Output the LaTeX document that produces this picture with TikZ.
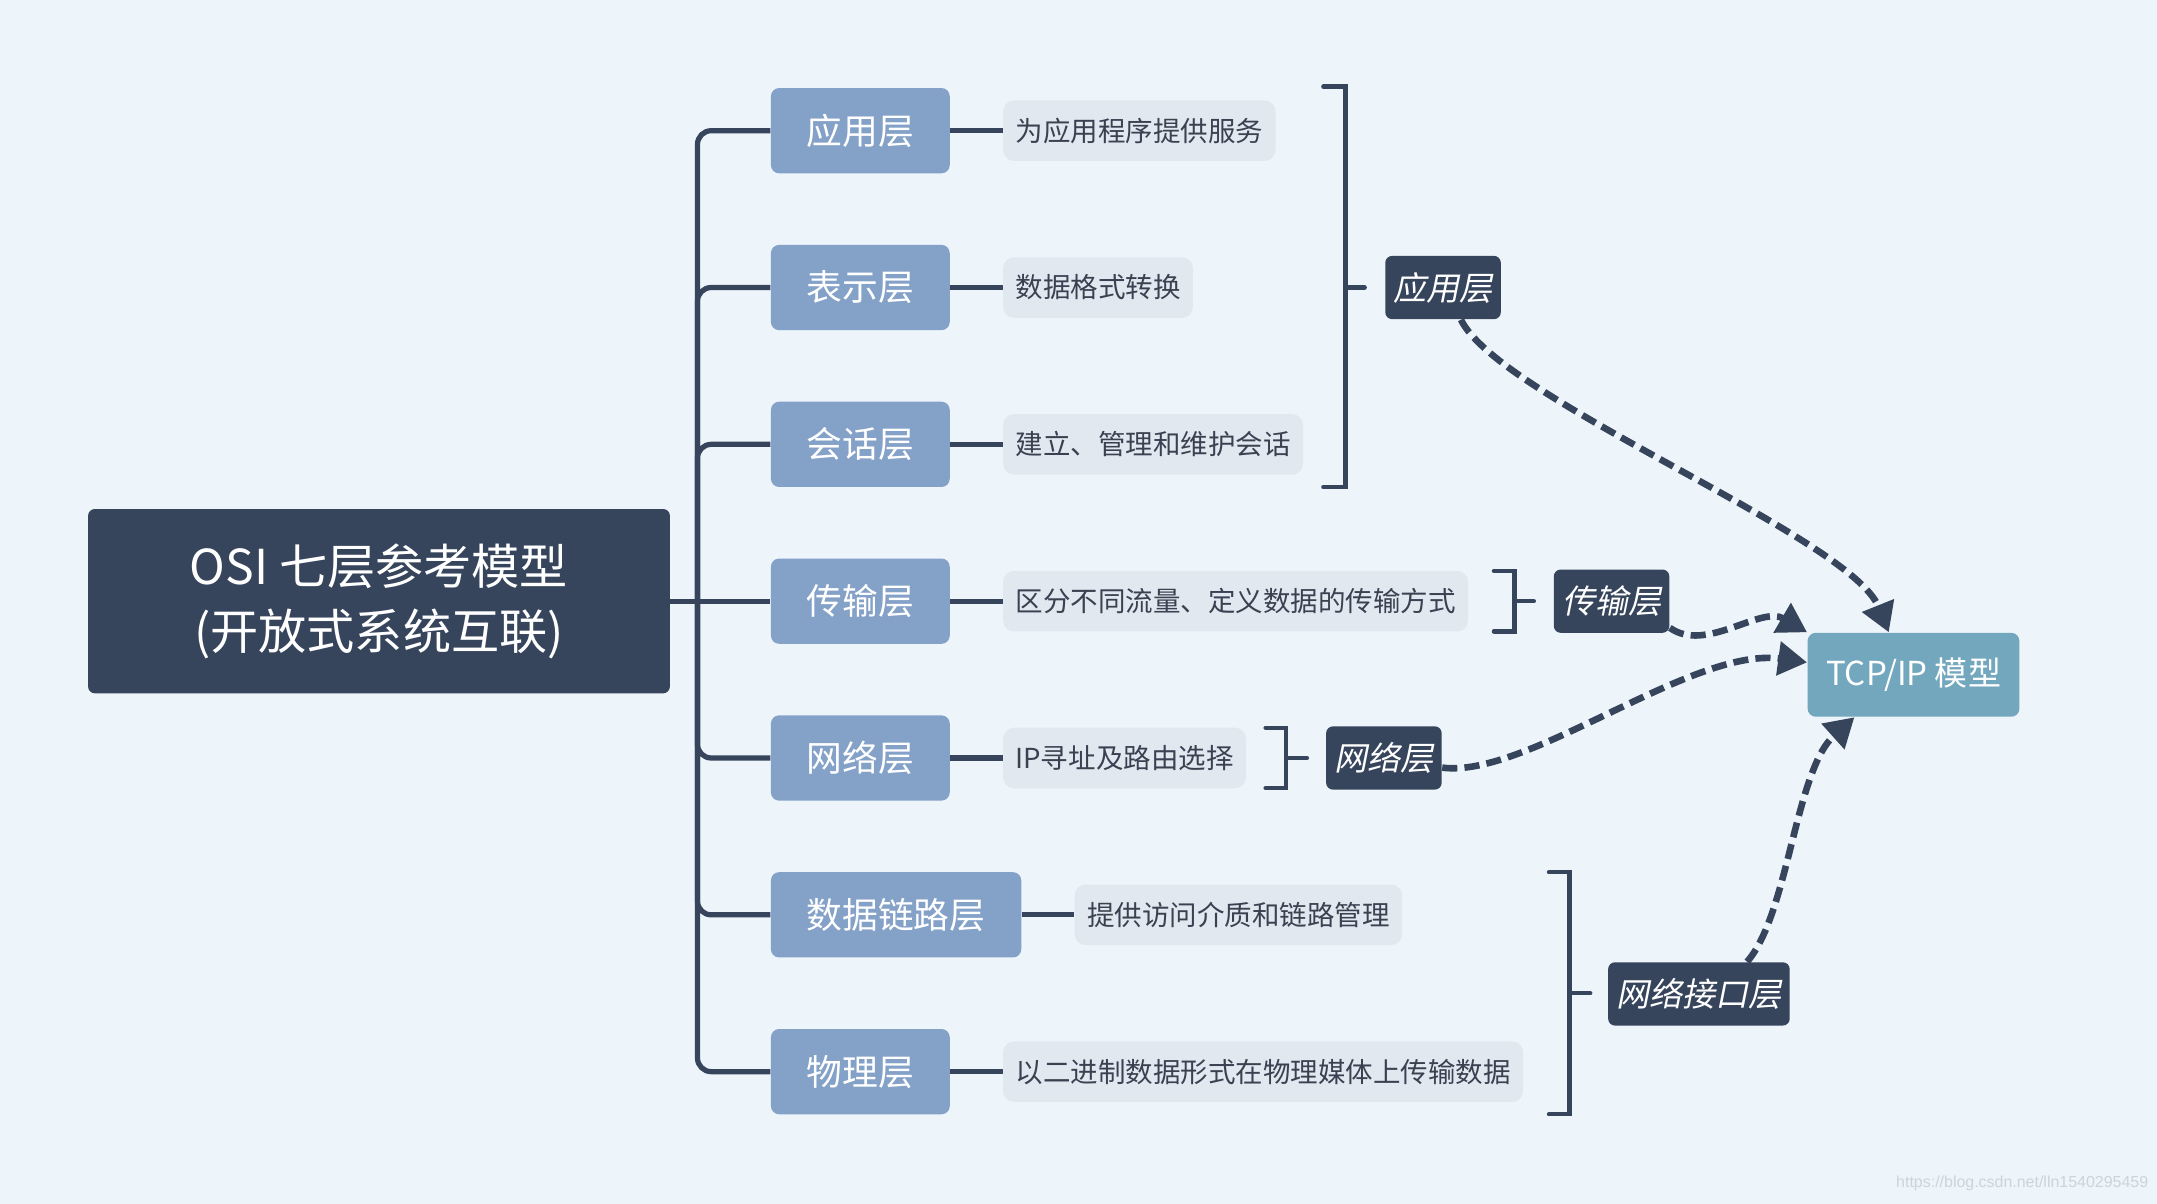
\documentclass[tikz,border=0pt]{standalone}
\usepackage{fontspec}
\setmainfont{Noto Sans CJK SC}
\newfontfamily\slfont[FakeSlant=0.2]{Noto Sans CJK SC}
\newfontfamily\wmfont{Liberation Sans}
\usetikzlibrary{arrows.meta,positioning}
\definecolor{bg}{HTML}{EDF4FA}
\definecolor{dark}{HTML}{36455C}
\definecolor{layerc}{HTML}{84A1C8}
\definecolor{descc}{HTML}{E1E8F0}
\definecolor{desctext}{HTML}{3A4150}
\definecolor{tcpc}{HTML}{72A7BE}
\definecolor{wm}{HTML}{CCD3DB}
\begin{document}
\begin{tikzpicture}[x=0.5pt,y=-0.5pt,
  rootbox/.style={fill=dark, rounded corners=2.5pt, minimum width=211.5pt, minimum height=67pt,
    text=white, align=center, font=\fontsize{17.5pt}{23.5pt}\selectfont},
  layerbox/.style={fill=layerc, rounded corners=3pt, minimum width=65pt, minimum height=31pt,
    inner xsep=13pt, inner ysep=0pt, text=white, font=\fontsize{13pt}{15pt}\selectfont, anchor=west},
  descbox/.style={fill=descc, rounded corners=4pt, minimum height=22pt, inner xsep=4.5pt, inner ysep=0pt,
    text=desctext, font=\fontsize{10pt}{12pt}\selectfont},
  tagbox/.style={fill=dark, rounded corners=2.5pt, minimum height=23pt, inner xsep=3pt, inner ysep=0pt,
    text=white, font=\slfont\fontsize{12pt}{14pt}\selectfont},
  tcpbox/.style={fill=tcpc, rounded corners=3pt, minimum width=77pt, minimum height=30.5pt,
    text=white, font=\fontsize{12pt}{14pt}\selectfont},
  tree/.style={draw=dark, line width=1.9pt},
  brack/.style={draw=dark, line width=1.6pt, line cap=round},
  flow/.style={draw=dark, line width=2.4pt, dash pattern=on 5.5pt off 2.6pt,
    -{Triangle[length=10.5pt,width=12pt]}},
]
\useasboundingbox[fill=bg] (0,0) rectangle (1568,875);

% root
\node[rootbox] (root) at (275.5,437) {OSI 七层参考模型\\(开放式系统互联)};

% layers
\node[layerbox] (L1) at (560,95) {应用层};
\node[layerbox] (L2) at (560,209) {表示层};
\node[layerbox] (L3) at (560,323) {会话层};
\node[layerbox] (L4) at (560,437) {传输层};
\node[layerbox] (L5) at (560,551) {网络层};
\node[layerbox] (L6) at (560,665) {数据链路层};
\node[layerbox] (L7) at (560,779) {物理层};

% descriptions
\node[descbox, right=19pt of L1] (D1) {为应用程序提供服务};
\node[descbox, right=19pt of L2] (D2) {数据格式转换};
\node[descbox, right=19pt of L3] (D3) {建立、管理和维护会话};
\node[descbox, right=19pt of L4] (D4) {区分不同流量、定义数据的传输方式};
\node[descbox, right=19pt of L5] (D5) {IP寻址及路由选择};
\node[descbox, right=19pt of L6] (D6) {提供访问介质和链路管理};
\node[descbox, right=19pt of L7] (D7) {以二进制数据形式在物理媒体上传输数据};

% tree
\coordinate (j) at (507,437);
\draw[tree] (root.east) -- (L4.west);
\foreach \n in {L1,L2,L3,L5,L6,L7}{
  \draw[tree, rounded corners=5pt] (j) |- (\n.west);
}
\foreach \n in {1,...,7}{
  \draw[tree] (L\n) -- (D\n);
}

% brackets
\draw[brack] (962,63) -- (978,63) -- (978,354) -- (962,354);
\draw[brack] (978,209) -- (992,209);
\draw[brack] (1086,415) -- (1101,415) -- (1101,459) -- (1086,459);
\draw[brack] (1101,437) -- (1115,437);
\draw[brack] (920,529) -- (935,529) -- (935,573) -- (920,573);
\draw[brack] (935,551) -- (950,551);
\draw[brack] (1126,634) -- (1141,634) -- (1141,810) -- (1126,810);
\draw[brack] (1141,722) -- (1156,722);

% tags
\node[tagbox] (A1) at (1049,209) {应用层};
\node[tagbox] (A2) at (1171.5,437) {传输层};
\node[tagbox] (A3) at (1006,551) {网络层};
\node[tagbox] (A4) at (1235,722.5) {网络接口层};

% TCP/IP
\node[tcpbox] (tcp) at (1391,490.5) {TCP/IP 模型};

% flows
\draw[flow] ([xshift=6.5pt]A1.south) .. controls (1090,290) and (1345,390) .. ([xshift=-9pt]tcp.north);
\draw[flow] ([yshift=2pt]A2.south east) .. controls (1240,475) and (1280,440) .. (tcp.north west);
\draw[flow] ([yshift=-3.5pt]A3.east) .. controls (1110,566) and (1230,470) .. ([yshift=4.5pt]tcp.west);
\draw[flow] ([xshift=17.5pt]A4.north) .. controls (1300,665) and (1305,560) .. ([xshift=-21.5pt]tcp.south);

% watermark
\node[text=wm, font=\wmfont\fontsize{5.8pt}{6.8pt}\selectfont] (wmark) at (1470,860) {https://blog.csdn.net/lln1540295459};
\end{tikzpicture}
\end{document}
